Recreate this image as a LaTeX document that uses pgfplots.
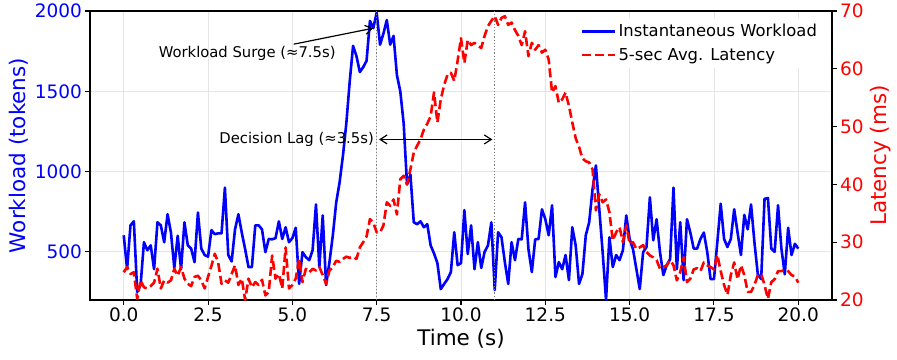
\documentclass[border=0pt]{standalone}
\usepackage{fontspec}
\setmainfont{DejaVu Sans}
\usepackage{pgfplots}
\pgfplotsset{compat=1.18}
\usepackage{pgfplotstable}
\usetikzlibrary{arrows.meta}

\definecolor{wblue}{RGB}{0,0,255}
\definecolor{lred}{RGB}{255,0,0}
\newcommand\tickfont{\fontsize{18.5}{22}\selectfont}
\newcommand\labfont{\fontsize{21.5}{25}\selectfont}
\newcommand\legfont{\fontsize{16.4}{19.5}\selectfont}
\newcommand\annfont{\fontsize{14.8}{17}\selectfont}

\pgfplotstableread{
t w l
0.0 603 24.8
0.1 392 25.7
0.2 665 24.5
0.3 690 24.8
0.4 250 20.2
0.5 293 23.4
0.6 560 22.2
0.7 510 22.0
0.8 540 22.4
0.9 392 23.0
1.0 684 25.4
1.1 665 22.0
1.2 560 23.4
1.3 734 23.0
1.4 620 23.4
1.5 400 25.4
1.6 600 24.2
1.7 392 25.7
1.8 684 23.7
1.9 540 22.8
2.0 520 22.4
2.1 436 24.0
2.2 745 24.2
2.3 520 23.4
2.4 480 22.0
2.5 470 24.0
2.6 635 25.9
2.7 610 28.0
2.8 615 26.5
2.9 615 22.8
3.0 900 23.4
3.1 480 23.0
3.2 440 24.5
3.3 640 26.0
3.4 734 22.6
3.5 620 23.7
3.6 516 20.0
3.7 405 23.7
3.8 405 22.2
3.9 665 23.1
4.0 665 22.6
4.1 640 23.5
4.2 498 20.8
4.3 580 21.4
4.4 578 27.7
4.5 585 23.7
4.6 690 24.5
4.7 580 22.0
4.8 653 29.1
4.9 560 22.0
5.0 585 22.6
5.1 650 23.7
5.2 300 27.1
5.3 498 23.1
5.4 467 25.4
5.5 448 24.8
5.6 510 25.4
5.7 795 25.1
5.8 405 25.7
5.9 727 24.3
6.0 293 22.8
6.1 436 25.1
6.2 603 25.7
6.3 808 26.8
6.4 932 26.6
6.5 1100 27.1
6.6 1300 27.5
6.7 1560 27.3
6.8 1783 27.5
6.9 1720 27.1
7.0 1620 29.1
7.1 1650 30.0
7.2 1690 31.0
7.3 1938 34.0
7.4 1894 33.4
7.5 1990 31.7
7.6 1790 31.7
7.7 1860 32.9
7.8 1944 36.9
7.9 1790 36.3
8.0 1845 37.4
8.1 1600 34.8
8.2 1500 40.9
8.3 1300 41.5
8.4 920 40.0
8.5 982 42.6
8.6 684 45.5
8.7 672 46.7
8.8 690 47.8
8.9 653 49.5
9.0 672 50.5
9.1 540 51.8
9.2 490 55.9
9.3 430 50.7
9.4 268 54.7
9.5 300 57.2
9.6 330 59.0
9.7 374 59.3
9.8 622 57.9
9.9 417 61.4
10.0 430 65.3
10.1 760 61.0
10.2 486 65.0
10.3 665 64.1
10.4 392 64.5
10.5 560 64.0
10.6 400 63.6
10.7 500 65.7
10.8 540 67.4
10.9 684 68.3
11.0 262 69.1
11.1 622 67.6
11.2 591 68.8
11.3 436 69.1
11.4 300 67.6
11.5 560 68.0
11.6 448 66.7
11.7 580 65.7
11.8 578 64.1
11.9 808 66.5
12.0 516 62.2
12.1 374 64.5
12.2 578 63.3
12.3 580 64.1
12.4 765 62.8
12.5 703 63.3
12.6 603 61.6
12.7 790 55.9
12.8 343 57.0
12.9 436 54.1
13.0 392 54.7
13.1 480 55.9
13.2 324 53.6
13.3 653 50.7
13.4 540 48.0
13.5 300 46.5
13.6 362 44.5
13.7 603 44.0
13.8 684 43.8
13.9 890 42.6
14.0 1038 35.5
14.1 765 38.3
14.2 498 36.9
14.3 200 37.4
14.4 591 35.2
14.5 405 30.3
14.6 480 31.7
14.7 448 32.6
14.8 510 30.0
14.9 727 32.9
15.0 580 29.7
15.1 516 30.0
15.2 392 28.8
15.3 268 29.1
15.4 498 29.5
15.5 530 28.3
15.6 840 27.7
15.7 572 27.4
15.8 703 26.9
15.9 498 25.4
16.0 355 25.7
16.1 417 26.0
16.2 455 26.9
16.3 900 26.0
16.4 392 23.4
16.5 684 24.8
16.6 324 27.4
16.7 703 23.1
16.8 620 23.7
16.9 520 25.3
17.0 520 25.5
17.1 580 25.0
17.2 620 26.5
17.3 500 26.0
17.4 330 25.7
17.5 330 25.3
17.6 560 27.8
17.7 800 25.0
17.8 580 22.6
17.9 530 20.9
18.0 580 24.3
18.1 765 26.5
18.2 620 23.6
18.3 480 26.0
18.4 730 24.3
18.5 640 21.4
18.6 795 21.4
18.7 560 22.6
18.8 360 24.3
18.9 330 24.5
19.0 830 22.6
19.1 835 20.2
19.2 520 23.1
19.3 500 23.6
19.4 790 25.0
19.5 520 25.0
19.6 360 25.2
19.7 650 25.0
19.8 480 24.3
19.9 550 24.1
20.0 520 23.0
}\datatable

\begin{document}
\begin{tikzpicture}
\path[use as bounding box] (-90pt,-59pt) rectangle (807pt,300pt);
\begin{axis}[
  at={(0pt,0pt)}, anchor=south west,
  scale only axis, width=742pt, height=289pt,
  xmin=-1, xmax=21, ymin=200, ymax=2000,
  xtick={0,2.5,5,7.5,10,12.5,15,17.5,20},
  xticklabels={0.0,2.5,5.0,7.5,10.0,12.5,15.0,17.5,20.0},
  ytick={500,1000,1500,2000},
  yticklabels={500,1000,1500,2000},
  xtick pos=bottom, ytick pos=left,
  tick align=outside, major tick length=4.6pt,
  tick style={black, line width=1.05pt},
  axis line style={black, line width=1.05pt},
  grid=major, major grid style={black!10, line width=0.9pt},
  x tick label style={font=\tickfont, black},
  y tick label style={font=\tickfont, wblue},
  xlabel={Time (s)}, ylabel={Workload (tokens)},
  xlabel style={font=\labfont},
  ylabel style={font=\labfont, wblue},
]
\addplot[wblue, line width=2.6pt, line join=round] table[x=t, y=w] {\datatable};
\draw[gray, line width=1.2pt, dash pattern=on 1.2pt off 2pt] (axis cs:7.5,200) -- (axis cs:7.5,2000);
\draw[gray, line width=1.2pt, dash pattern=on 1.2pt off 2pt] (axis cs:11,200) -- (axis cs:11,2000);
\node[font=\annfont, inner sep=2pt] (surge) at (axis cs:3.66,1735) {Workload Surge (≈7.5s)};
\draw[-{Straight Barb[length=7pt,width=9pt]}, line width=1.2pt] (surge) -- (axis cs:7.40,1893);
\node[font=\annfont, anchor=east, inner sep=1pt] at (axis cs:7.45,1200) {Decision Lag (≈3.5s)};
\draw[{Straight Barb[length=7pt,width=9pt]}-{Straight Barb[length=7pt,width=9pt]}, line width=1.2pt] (axis cs:7.57,1200) -- (axis cs:10.93,1200);
\end{axis}
\begin{axis}[
  at={(0pt,0pt)}, anchor=south west,
  scale only axis, width=742pt, height=289pt,
  xmin=-1, xmax=21, ymin=20, ymax=70,
  hide x axis, axis y line*=right,
  ytick={20,30,40,50,60,70},
  yticklabels={20,30,40,50,60,70},
  tick align=outside, major tick length=4.6pt,
  tick style={black, line width=1.05pt},
  axis line style={black, line width=1.05pt},
  y tick label style={font=\tickfont, lred},
  ylabel={Latency (ms)},
  ylabel style={font=\labfont, lred},
  legend style={at={(0.988,0.975)}, anchor=north east, draw=none, fill=white,
    font=\legfont, row sep=6pt, inner sep=4pt},
  legend cell align=left,
  legend image code/.code={\draw[#1] (0pt,0pt) -- (33pt,0pt);},
]
\addlegendimage{wblue, line width=2.6pt}
\addlegendentry{Instantaneous Workload}
\addplot[lred, line width=2.6pt, dash pattern=on 9pt off 4pt, line join=round] table[x=t, y=l] {\datatable};
\addlegendentry{5-sec Avg. Latency}
\end{axis}
\end{tikzpicture}
\end{document}
